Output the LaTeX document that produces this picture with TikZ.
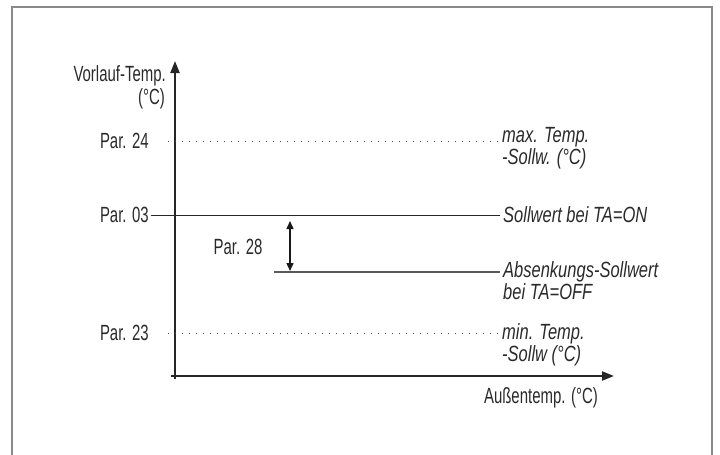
\documentclass[tikz,border=0pt]{standalone}
\usepackage{fontspec}
\setmainfont[FakeStretch=0.68]{Liberation Sans}
\newfontfamily\labit[FakeStretch=0.75]{Liberation Sans}
\usetikzlibrary{arrows.meta}
\definecolor{txt}{HTML}{2A2A2A}
\definecolor{frame}{HTML}{8A8A8A}
\begin{document}
\begin{tikzpicture}[x=1pt,y=-1pt,
  lbl/.style={font=\fontsize{22}{22}\selectfont, text=txt, inner sep=0pt},
  ilbl/.style={font=\labit\itshape\fontsize{22}{22}\selectfont, text=txt, inner sep=0pt, align=left},
  axisline/.style={line width=2.2pt, draw=black!85, -{Triangle[length=12pt,width=9pt]}},
  dotline/.style={line width=1pt, dash pattern=on 1pt off 6pt, draw=black!70},
  setline/.style={line width=1pt, draw=black!85},
  lowline/.style={line width=1.2pt, draw=black!65},
  dblarrow/.style={line width=1.5pt, draw=black!90, {Triangle[length=8pt,width=7pt]}-{Triangle[length=8pt,width=7pt]}}
]
\useasboundingbox (0,0) rectangle (720,455);
% frame (open at bottom)
\draw[frame, line width=1.6pt] (12,455) -- (12,7) -- (712,7) -- (712,455);

% axes
\coordinate (ybot) at (175,379);
\coordinate (ytop) at (175,61);
\coordinate (xleft) at (171,376);
\coordinate (xright) at (614,376);
\draw[axisline] (ybot) -- (ytop);
\draw[axisline] (xleft) -- (xright);
\node[lbl, anchor=base east] (ylab1) at (166,81) {Vorlauf-Temp.};
\node[lbl, anchor=base east] (ylab2) at (165,104) {(°C)};
\node[lbl, anchor=base east] (xlab) at (598,403) {Außentemp. (°C)};

% Par. 24 (max)
\node[lbl, anchor=east] (p24) at (149,141) {Par. 24};
\coordinate (d24a) at (168,141);
\coordinate (d24b) at (499,141);
\draw[dotline] (d24a) -- (d24b);
\node[ilbl, anchor=north west] (maxl) at (502,127) {max. Temp.\\-Sollw. (°C)};

% Par. 03 (setpoint TA=ON)
\node[lbl, anchor=east] (p03) at (149,215) {Par. 03};
\node[ilbl, anchor=west] (sollon) at (503,215) {Sollwert bei TA=ON};
\draw[setline, shorten <=2pt, shorten >=3pt] (p03.east) -- (sollon.west);

% Par. 28 (reduction)
\coordinate (arrtop) at (290,221);
\coordinate (arrbot) at (290,271);
\draw[dblarrow] (arrtop) -- (arrbot);
\node[lbl, anchor=center] (p28) at (238,247) {Par. 28};
\coordinate (absa) at (274,272);
\coordinate (absb) at (500,272);
\draw[lowline] (absa) -- (absb);
\node[ilbl, anchor=north west] (absl) at (503,261.5) {Absenkungs-Sollwert\\bei TA=OFF};

% Par. 23 (min)
\node[lbl, anchor=east] (p23) at (149,333) {Par. 23};
\coordinate (d23a) at (168,333);
\coordinate (d23b) at (499,333);
\draw[dotline] (d23a) -- (d23b);
\node[ilbl, anchor=north west] (minl) at (502,323) {min. Temp.\\-Sollw (°C)};
\end{tikzpicture}
\end{document}
